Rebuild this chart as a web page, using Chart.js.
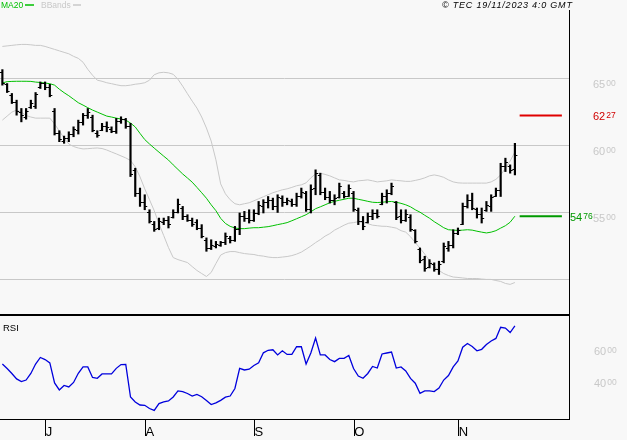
<!DOCTYPE html>
<html>
<head>
<meta charset="utf-8">
<script src="https://cdn.jsdelivr.net/npm/chart.js@4.4.0/dist/chart.umd.min.js"></script>
<style>
  html, body { margin: 0; padding: 0; background: #f8f8f8; }
  #wrap { position: relative; width: 627px; height: 440px; overflow: hidden; }
  #price { position: absolute; left: 0; top: 0; }
  #rsi { position: absolute; left: 0; top: 313px; }
</style>
</head>
<body>
<div id="wrap">
  <canvas id="price" width="627" height="316"></canvas>
  <canvas id="rsi" width="627" height="127"></canvas>
</div>
<script>
// daily bars, 19 Jun -> 16 Nov 2023 (one entry per trading day)
const opens = [65.5,64.6,63.8,63.3,62.5,62.2,62.9,63.0,64.4,64.7,
  64.4,62.6,61.0,60.4,60.6,60.9,61.2,61.8,62.3,62.2,
  61.0,61.2,61.5,61.3,61.1,61.9,62.0,61.5,58.2,56.5,
  55.8,55.1,54.2,53.9,54.3,54.5,54.7,55.1,55.4,54.8,
  54.5,54.3,53.9,53.0,52.4,52.5,52.6,52.8,53.1,53.0,
  53.8,54.8,54.6,54.5,55.0,55.5,55.8,56.0,55.5,56.1,
  55.8,55.9,55.7,56.3,56.5,55.3,56.9,57.8,56.6,56.2,
  56.0,56.2,56.5,56.3,56.5,55.2,54.4,54.3,54.8,55.0,
  55.7,56.3,56.5,55.8,54.8,54.5,54.7,53.7,52.3,51.6,
  51.0,51.2,50.8,51.4,52.4,52.6,53.5,54.2,55.5,56.0,
  55.3,54.9,55.2,55.5,56.3,56.7,58.5,58.5,58.3];
const highs = [65.70,64.66,63.92,63.42,62.80,62.80,63.42,63.99,64.78,64.78,
  64.60,62.80,61.14,60.74,61.06,61.43,61.93,62.43,62.80,62.30,
  61.14,61.69,61.80,61.43,62.06,62.18,62.06,61.69,58.34,56.86,
  56.36,55.24,54.37,54.62,54.62,54.74,55.24,56.04,55.49,54.87,
  54.62,54.50,54.13,53.14,53.00,52.88,52.88,53.51,53.26,54.00,
  55.00,55.12,55.24,55.24,55.86,55.99,56.23,56.11,56.36,56.28,
  56.11,56.04,56.48,56.86,56.61,57.10,58.22,57.97,56.86,56.61,
  56.36,57.23,56.61,57.10,56.61,55.37,54.74,55.00,55.24,55.24,
  56.48,56.73,57.23,55.86,55.24,55.24,54.87,53.75,52.39,51.77,
  51.52,51.28,51.40,52.76,52.88,53.75,53.88,55.74,56.36,56.48,
  55.37,55.37,55.86,56.36,56.86,58.71,59.09,58.59,60.20];
const lows = [64.54,63.99,63.17,62.30,61.80,62.00,62.80,62.80,64.29,64.20,
  63.67,60.82,60.32,60.20,60.32,60.69,60.89,61.56,62.06,61.06,
  60.65,61.14,61.06,60.99,60.94,61.69,61.32,57.72,56.23,55.49,
  55.24,54.25,53.63,53.75,54.13,53.88,54.62,55.00,54.50,54.37,
  54.00,53.75,53.14,52.14,52.27,52.39,52.51,52.64,52.76,52.88,
  53.38,54.37,54.25,54.37,54.87,55.00,55.37,55.24,55.04,55.49,
  55.61,55.49,55.49,56.11,55.12,55.00,56.36,56.36,55.99,55.74,
  55.61,56.11,56.11,56.23,55.12,54.13,53.75,54.25,54.50,54.62,
  55.61,55.74,56.36,54.50,54.25,54.37,53.63,52.76,51.28,50.65,
  50.90,50.65,50.41,51.28,52.14,52.39,53.38,54.13,55.37,55.24,
  54.62,54.25,55.12,55.12,56.23,56.23,58.09,57.97,57.84];
const closes = [64.7,64.1,63.3,62.6,62.3,62.6,63.2,63.9,64.7,64.4,
  63.8,61.0,60.5,60.6,60.9,61.3,61.8,62.3,62.5,61.2,
  60.8,61.5,61.4,61.1,61.9,62.0,61.5,57.9,56.5,55.8,
  55.5,54.4,53.8,54.4,54.5,54.2,55.1,55.7,54.8,54.5,
  54.2,53.9,53.3,52.4,52.6,52.7,52.8,53.3,53.0,53.8,
  54.8,54.6,54.5,55.0,55.6,55.8,56.0,55.5,56.2,55.8,
  56.0,55.7,56.3,56.6,55.3,56.8,58.0,56.6,56.2,56.0,
  56.1,57.0,56.3,56.9,55.3,54.4,54.0,54.8,55.0,54.8,
  56.3,56.5,57.0,54.7,54.5,54.9,53.8,52.9,51.5,50.9,
  51.3,50.8,51.2,52.5,52.6,53.5,53.7,55.5,56.0,55.4,
  54.9,54.6,55.6,56.2,56.7,58.5,58.8,58.2,59.3];

const ma20 = [64.71,64.80,64.82,64.83,64.83,64.83,64.82,64.77,64.74,64.70,
  64.65,64.54,64.24,63.98,63.75,63.49,63.23,63.05,62.86,62.68,
  62.53,62.38,62.23,62.16,62.08,62.01,61.93,61.71,61.42,60.94,
  60.48,60.15,59.84,59.54,59.24,58.95,58.59,58.25,57.91,57.61,
  57.30,56.91,56.51,56.10,55.61,55.17,54.60,54.22,54.00,53.88,
  53.83,53.83,53.87,53.90,53.90,53.94,53.98,54.05,54.13,54.20,
  54.28,54.42,54.57,54.72,54.87,55.09,55.32,55.46,55.61,55.76,
  55.87,55.95,56.02,56.10,56.10,56.02,55.95,55.87,55.80,55.78,
  55.80,55.84,55.86,55.80,55.72,55.61,55.46,55.24,55.06,54.83,
  54.61,54.35,54.13,53.90,53.75,53.72,53.70,53.72,53.75,53.72,
  53.64,53.57,53.51,53.57,53.68,53.87,54.05,54.31,54.76];
const bbUpper = [67.43,67.47,67.51,67.55,67.58,67.58,67.55,67.51,67.51,67.43,
  67.32,67.21,67.10,66.99,66.88,66.69,66.54,66.25,65.72,65.28,
  64.91,64.83,64.72,64.65,64.57,64.50,64.50,64.54,64.61,64.65,
  64.72,64.91,65.32,65.46,65.50,65.46,65.35,64.98,64.46,63.90,
  63.35,62.83,62.16,61.34,60.37,58.96,57.17,56.43,55.99,55.69,
  55.61,55.69,55.76,55.91,56.06,56.21,56.36,56.51,56.62,56.73,
  56.80,56.91,57.03,57.10,57.25,57.62,57.92,57.96,57.88,57.77,
  57.62,57.47,57.43,57.36,57.32,57.40,57.43,57.47,57.40,57.32,
  57.36,57.40,57.47,57.43,57.40,57.36,57.36,57.43,57.51,57.62,
  57.77,57.84,57.77,57.66,57.47,57.32,57.25,57.23,57.23,57.23,
  57.23,57.23,57.23,57.32,57.51,57.84,58.33,58.88,59.55];
const bbLower = [61.93,62.23,62.53,62.68,62.53,62.27,62.16,62.08,62.08,62.08,
  62.08,61.64,61.12,60.59,60.15,59.96,59.85,59.78,59.80,59.83,
  59.85,59.81,59.70,59.55,59.41,59.26,59.11,58.92,58.44,57.70,
  56.80,55.99,55.17,54.20,53.31,52.42,51.67,51.52,51.41,51.30,
  51.00,50.71,50.48,50.26,50.56,51.23,51.86,52.04,52.12,52.12,
  52.04,51.97,51.93,51.90,51.82,51.78,51.71,51.67,51.67,51.71,
  51.75,51.82,51.93,52.08,52.30,52.53,52.79,53.01,53.27,53.46,
  53.72,53.90,54.09,54.24,54.28,54.35,54.28,54.20,54.09,54.05,
  54.01,54.00,53.94,53.87,53.68,53.57,53.23,52.79,52.38,51.93,
  51.45,51.00,50.71,50.48,50.33,50.22,50.19,50.15,50.11,50.11,
  50.11,50.07,50.04,50.04,49.96,49.89,49.74,49.67,49.81];
const rsi = [48.1,45.3,42.2,38.8,37.1,38.1,42.2,48.1,52.2,50.9,
  48.8,36.3,31.9,34.7,33.8,36.6,42.3,46.3,46.3,39.7,
  39.2,41.9,41.9,41.9,45.4,47.8,47.9,27.5,24.4,22.5,
  22.3,20.3,19.1,23.4,24.4,25.0,27.5,31.3,30.9,29.7,
  28.1,29.1,27.7,25.3,22.8,23.8,25.4,27.4,28.1,32.8,
  45.4,44.4,44.9,47.2,48.9,55.1,56.7,57.0,53.8,56.4,
  54.1,54.2,58.9,58.9,48.1,55.0,64.4,53.8,53.8,50.9,
  49.6,51.6,51.7,53.4,45.3,40.6,39.2,42.2,46.6,45.6,
  54.4,55.0,55.6,45.6,46.3,43.8,39.1,36.1,29.8,31.3,
  31.3,30.9,33.1,38.1,40.9,46.3,50.0,58.6,60.9,59.1,
  56.4,57.3,60.3,62.5,64.1,71.1,70.6,67.8,71.9];

const monthLetters = ['J', 'A', 'S', 'O', 'N'];
const monthFirstBar = [10, 31, 54, 75, 97];
const priceGrid = [50, 55, 60, 65];
const priceLabels = [55, 60, 65];
const rsiLabels = [40, 60];
const targetPrice = 62.27;
const lastMA = 54.76;

// axis windows
const xMin = -0.5, xMax = 119.4;
const markFrom = 109.0, markTo = 117.9;
const FONT = '"Liberation Sans", Arial, sans-serif';

const pts = arr => arr.map((v, i) => ({ x: i, y: v }));

// "65" + small raised "00"
function supLabel(ctx, x, capTop, value, color) {
  const parts = value.toFixed(2).split('.');
  ctx.fillStyle = color;
  ctx.textAlign = 'left';
  ctx.textBaseline = 'alphabetic';
  ctx.font = '11px ' + FONT;
  ctx.fillText(parts[0], x, capTop + 8);
  const w = ctx.measureText(parts[0]).width;
  ctx.font = '8.5px ' + FONT;
  ctx.fillText(parts[1], x + w + 1, capTop + 6);
}

const priceDecor = {
  id: 'priceDecor',
  afterDatasetsDraw(chart) {
    const { ctx, scales: { x, y } } = chart;
    ctx.save();
    // open / close ticks
    ctx.strokeStyle = '#000';
    ctx.lineWidth = 1;
    ctx.beginPath();
    opens.forEach((o, i) => {
      const px = x.getPixelForValue(i);
      const yo = Math.round(y.getPixelForValue(o)) + 0.5;
      const yc = Math.round(y.getPixelForValue(closes[i])) + 0.5;
      ctx.moveTo(px - 2.5, yo); ctx.lineTo(px, yo);
      ctx.moveTo(px, yc); ctx.lineTo(px + 2.5, yc);
    });
    ctx.stroke();
    ctx.restore();
  },
  afterDraw(chart) {
    const { ctx, chartArea, scales: { y } } = chart;
    ctx.save();
    // right frame line
    ctx.strokeStyle = '#000';
    ctx.lineWidth = 1;
    ctx.beginPath();
    ctx.moveTo(chartArea.right + 0.5, chartArea.top - 2);
    ctx.lineTo(chartArea.right + 0.5, chart.height);
    ctx.stroke();

    priceLabels.forEach(v => supLabel(ctx, chartArea.right + 24, y.getPixelForValue(v) + 1.5, v, '#c8c8c8'));
    supLabel(ctx, chartArea.right + 24, y.getPixelForValue(targetPrice) - 3.5, targetPrice, '#d00000');
    supLabel(ctx, chartArea.right + 1, y.getPixelForValue(lastMA) - 3.5, lastMA, '#009900');

    // legend
    ctx.font = '8.5px ' + FONT;
    ctx.textBaseline = 'alphabetic';
    ctx.fillStyle = '#00c000';
    ctx.fillText('MA20', 1, 8);
    ctx.fillStyle = '#c8c8c8';
    ctx.fillText('BBands', 41, 8);
    ctx.lineWidth = 1.5;
    ctx.strokeStyle = '#00c000';
    ctx.beginPath(); ctx.moveTo(25, 5); ctx.lineTo(34, 5); ctx.stroke();
    ctx.strokeStyle = '#c8c8c8';
    ctx.beginPath(); ctx.moveTo(73, 5); ctx.lineTo(81, 5); ctx.stroke();

    ctx.fillStyle = '#000';
    ctx.font = 'italic 9px ' + FONT;
    try { ctx.letterSpacing = '0.8px'; } catch (e) {}
    ctx.fillText('\u00a9 TEC 19/11/2023 4:0 GMT', 442, 8);
    ctx.restore();
  }
};

new Chart(document.getElementById('price'), {
  type: 'line',
  data: {
    datasets: [
      { type: 'bar', data: highs.map((h, i) => ({ x: i, y: [lows[i], h] })),
        backgroundColor: '#000', barThickness: 1.5, grouped: false, order: 0 },
      { data: pts(ma20), borderColor: '#00c000', borderWidth: 1, pointRadius: 0, order: 1 },
      { data: pts(bbUpper), borderColor: '#c8c8c8', borderWidth: 1, pointRadius: 0, order: 2 },
      { data: pts(bbLower), borderColor: '#c8c8c8', borderWidth: 1, pointRadius: 0, order: 2 },
      { data: [{ x: markFrom, y: targetPrice }, { x: markTo, y: targetPrice }],
        borderColor: '#e00000', borderWidth: 2, pointRadius: 0, order: 1 },
      { data: [{ x: markFrom, y: lastMA }, { x: markTo, y: lastMA }],
        borderColor: '#009a00', borderWidth: 2, pointRadius: 0, order: 1 }
    ]
  },
  options: {
    responsive: false,
    devicePixelRatio: 1,
    animation: false,
    events: [],
    layout: { padding: { left: 0, right: 58, top: 12, bottom: 2 } },
    plugins: { legend: { display: false }, tooltip: { enabled: false } },
    scales: {
      x: { type: 'linear', min: xMin, max: xMax, offset: false, display: false },
      y: {
        type: 'linear', position: 'right', min: 47.46, max: 70,
        afterBuildTicks: s => { s.ticks = priceGrid.map(v => ({ value: v })); },
        afterFit: s => { s.width = 0; },
        ticks: { display: false },
        grid: { color: '#c8c8c8', drawTicks: false },
        border: { display: false }
      }
    }
  },
  plugins: [priceDecor]
});

const rsiDecor = {
  id: 'rsiDecor',
  afterDraw(chart) {
    const { ctx, chartArea, scales: { y } } = chart;
    ctx.save();
    ctx.strokeStyle = '#000';
    ctx.lineWidth = 2;
    ctx.beginPath();
    ctx.moveTo(0, chartArea.top - 1);
    ctx.lineTo(chartArea.right + 1, chartArea.top - 1);
    ctx.stroke();
    ctx.lineWidth = 1;
    ctx.beginPath();
    ctx.moveTo(chartArea.right + 0.5, 0);
    ctx.lineTo(chartArea.right + 0.5, chartArea.bottom);
    ctx.stroke();

    ctx.fillStyle = '#000';
    ctx.font = '9.5px ' + FONT;
    ctx.textBaseline = 'alphabetic';
    ctx.fillText('RSI', 3, chartArea.top + 15);

    rsiLabels.forEach(v => supLabel(ctx, chartArea.right + 25, y.getPixelForValue(v) + 1.5, v, '#c8c8c8'));
    ctx.restore();
  }
};

new Chart(document.getElementById('rsi'), {
  type: 'line',
  data: {
    datasets: [
      { data: pts(rsi), borderColor: '#0000dd', borderWidth: 1.3, pointRadius: 0 }
    ]
  },
  options: {
    responsive: false,
    devicePixelRatio: 1,
    animation: false,
    events: [],
    layout: { padding: { left: 0, right: 58, top: 3, bottom: 0 } },
    plugins: { legend: { display: false }, tooltip: { enabled: false } },
    scales: {
      x: {
        type: 'linear', min: xMin, max: xMax, position: 'bottom',
        afterBuildTicks: s => { s.ticks = monthFirstBar.map(b => ({ value: b - 0.85 })); },
        afterFit: s => { s.height = 21; },
        ticks: {
          autoSkip: false, maxRotation: 0, align: 'start', padding: -11,
          color: '#000', font: { family: FONT, size: 13 },
          callback: (v, i) => monthLetters[i]
        },
        grid: { drawOnChartArea: false, drawTicks: true, tickLength: 17, color: '#000', tickColor: '#000' },
        border: { display: true, color: '#000', width: 1 }
      },
      y: {
        type: 'linear', position: 'right', min: 13.75, max: 78.125,
        afterFit: s => { s.width = 0; },
        ticks: { display: false },
        grid: { display: false },
        border: { display: false }
      }
    }
  },
  plugins: [rsiDecor]
});
</script>
</body>
</html>
